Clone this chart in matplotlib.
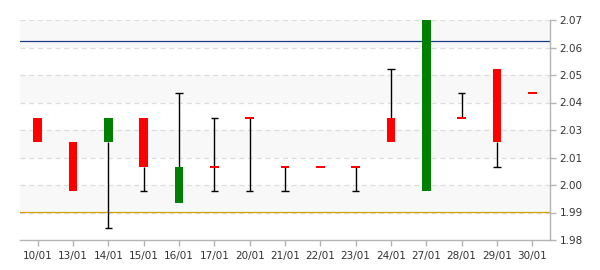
import numpy as np
import matplotlib
matplotlib.use('Agg')
import matplotlib.pyplot as plt

#%% Data
dates = ['10/01', '13/01', '14/01', '15/01', '16/01', '17/01', '20/01', '21/01',
         '22/01', '23/01', '24/01', '27/01', '28/01', '29/01', '30/01']
opens = [2.03, 2.02, 2.02, 2.03, 1.995, 2.01, 2.03, 2.01, 2.01, 2.01, 2.03, 2.00, 2.03, 2.05, 2.04]
closes = [2.02, 2.00, 2.03, 2.01, 2.01, 2.01, 2.03, 2.01, 2.01, 2.01, 2.02, 2.08, 2.03, 2.02, 2.04]
highs = [2.03, 2.02, 2.03, 2.03, 2.04, 2.03, 2.03, 2.01, 2.01, 2.01, 2.05, 2.08, 2.04, 2.05, 2.04]
lows = [2.02, 2.00, 1.985, 2.00, 1.995, 2.00, 2.00, 2.00, 2.01, 2.00, 2.02, 2.00, 2.03, 2.01, 2.04]

upper_line = 2.0613
lower_line = 1.9914

ytick_vals = np.linspace(1.98, 2.07, 9)
ytick_labels = ['1.98', '1.99', '2.00', '2.01', '2.03', '2.04', '2.05', '2.06', '2.07']

#%% Figure
fig = plt.figure(figsize=(6, 2.7), dpi=100)
ax = fig.add_axes([20 / 600, 1 - 240 / 270, 530 / 600, 220 / 270])

x = np.arange(len(dates))
o = np.array(opens)
c = np.array(closes)
h = np.array(highs)
l = np.array(lows)
top = np.maximum(o, c)
bot = np.minimum(o, c)

# alternating bands + dashed grid
for i in range(len(ytick_vals) - 1):
    if i % 2 == 1:
        ax.axhspan(ytick_vals[i], ytick_vals[i + 1], color='#f8f8f8', zorder=0, lw=0)
for v in ytick_vals[1:]:
    ax.axhline(v, color='#dddddd', lw=0.9, ls=(0, (4, 3)), zorder=0.5)

ax.axhline(upper_line, color='#173c8a', lw=0.9, zorder=1)
ax.axhline(lower_line, color='#d4a000', lw=0.9, zorder=1)

# wicks (only the parts outside the body) and caps
hi = h > top
lo = l < bot
ax.vlines(x[hi], top[hi], h[hi], color='black', lw=1, zorder=2)
ax.vlines(x[lo], l[lo], bot[lo], color='black', lw=1, zorder=2)
ax.hlines(h[hi], x[hi] - 0.1, x[hi] + 0.1, color='black', lw=1, zorder=2)
ax.hlines(l[lo], x[lo] - 0.1, x[lo] + 0.1, color='black', lw=1, zorder=2)

# bodies
colors = np.where(c > o, '#008000', '#ff0000')
doji = top == bot
height = np.where(doji, 0.0008, top - bot)
bottom = np.where(doji, top - 0.0004, bot)
ax.bar(x, height, bottom=bottom, width=0.25, color=colors, zorder=3, lw=0)

#%% Axes styling
ax.set_xlim(-0.5, len(dates) - 0.5)
ax.set_ylim(1.98, 2.07)
ax.set_xticks(x)
ax.set_xticklabels(dates)
ax.set_yticks(ytick_vals)
ax.set_yticklabels(ytick_labels)
ax.yaxis.tick_right()
for s in ['left', 'top']:
    ax.spines[s].set_visible(False)
for s in ['right', 'bottom']:
    ax.spines[s].set_color('#b4b4b4')
    ax.spines[s].set_linewidth(1)
ax.tick_params(axis='both', colors='#b4b4b4', labelcolor='#333333', labelsize=7.5,
               length=4, width=1)
ax.tick_params(axis='x', pad=4)
ax.tick_params(axis='y', pad=3)

fig.savefig('out.png', dpi=100)
